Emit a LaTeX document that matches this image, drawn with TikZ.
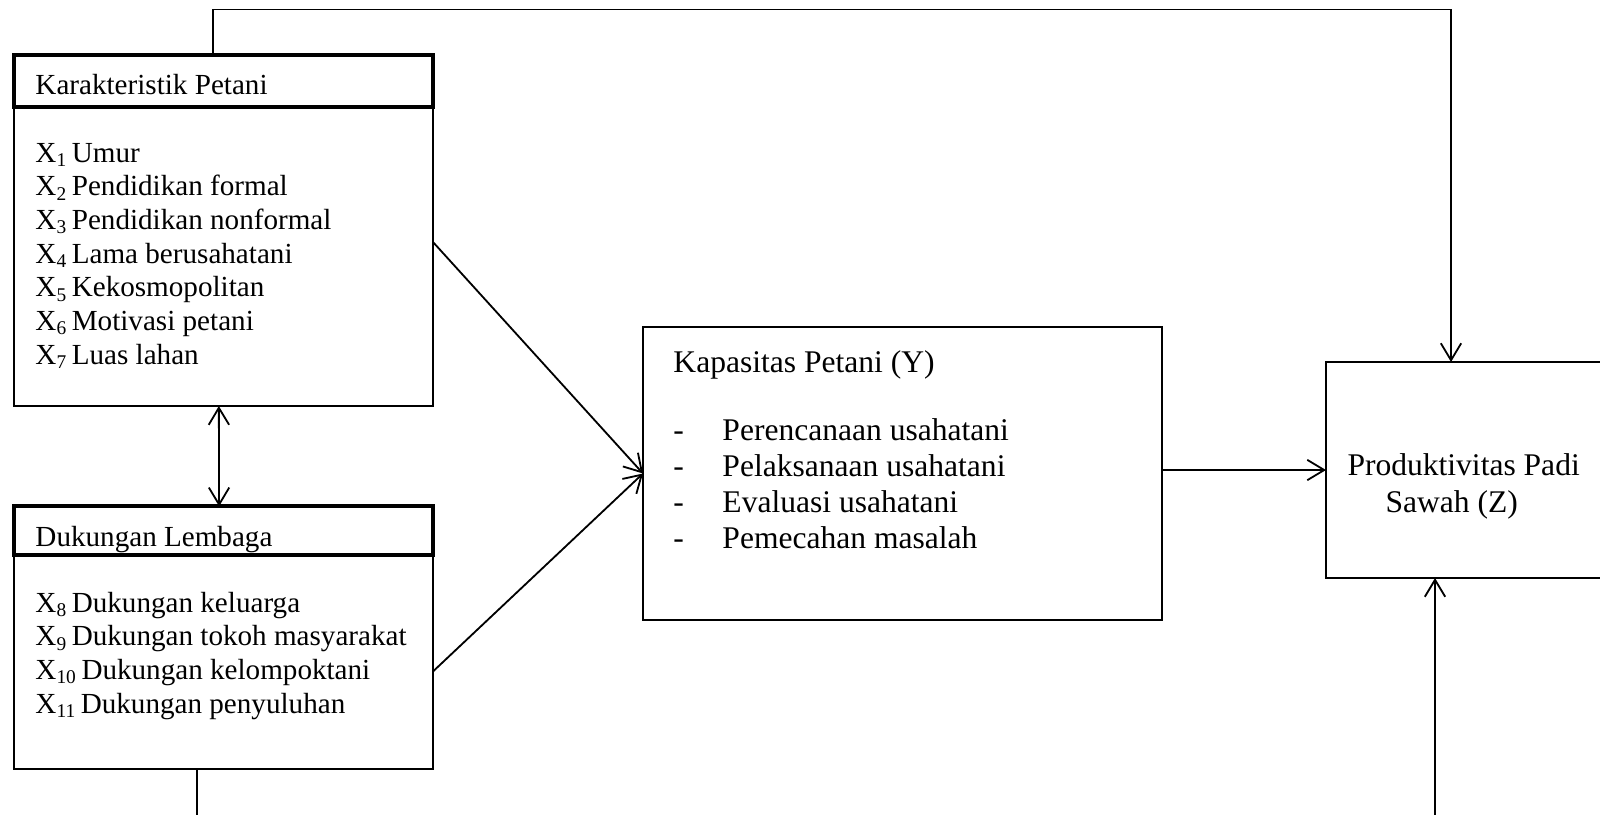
\documentclass[tikz,border=0pt]{standalone}
\usepackage{fontspec}
\setmainfont{Liberation Serif}
\usetikzlibrary{arrows.meta}

\begin{document}
\begin{tikzpicture}[x=0.412pt,y=-0.412pt,
        font=\fontsize{12}{14}\selectfont,
        box/.style={draw,line width=0.75pt,anchor=north west,inner sep=0pt,outer sep=0pt},
        head/.style={box,line width=1.7pt},
        txt/.style={anchor=base west,inner sep=0pt},
        big/.style={txt,font=\fontsize{13}{15}\selectfont},
        arr/.style={-{Straight Barb[length=7pt,width=8.4pt]},line width=0.75pt},
        dbl/.style={{Straight Barb[length=7pt,width=8.4pt]}-{Straight Barb[length=7pt,width=8.4pt]},line width=0.75pt}]

    \useasboundingbox (0,0) rectangle (1600,814);
    \clip (0,0) rectangle (1600,814);

    \node[box,minimum width=172.6pt,minimum height=123.2pt] (kp) at (14,107) {};
    \node[head,minimum width=172.8pt,minimum height=21.5pt] (kph) at (14,54.7) {};
    \node[box,minimum width=172.6pt,minimum height=88.2pt] (dl) at (14,555) {};
    \node[head,minimum width=172.8pt,minimum height=20.1pt] (dlh) at (14,506.3) {};
    \node[box,minimum width=213.8pt,minimum height=120.7pt] (kap) at (643,327) {};
    \node[box,minimum width=133.5pt,minimum height=89pt] (prod) at (1326,362) {};

    \node[txt] (kpt) at (35,94) {Karakteristik Petani};
    \foreach \t [count=\i] in {Umur,Pendidikan formal,Pendidikan nonformal,Lama berusahatani,Kekosmopolitan,Motivasi petani,Luas lahan}
        \node[txt] (x\i) at (35,128.3+33.7*\i) {X\textsubscript{\i}\hspace{0.15em}\t};

    \node[txt] (dlt) at (35,546) {Dukungan Lembaga};
    \foreach \t [count=\i from 8] in {Dukungan keluarga,Dukungan tokoh masyarakat,Dukungan kelompoktani,Dukungan penyuluhan}
        \node[txt] (x\i) at (35,612+33.7*\i-269.6) {X\textsubscript{\i}\hspace{0.15em}\t};

    \node[big] (kapt) at (673,372) {Kapasitas Petani (Y)};
    \foreach \t [count=\i] in {Perencanaan usahatani,Pelaksanaan usahatani,Evaluasi usahatani,Pemecahan masalah}{
        \node[big] (d\i) at (673,404+36*\i) {-};
        \node[big] (k\i) at (722,404+36*\i) {\t};
    }

    \node[big] (p1) at (1347,475) {Produktivitas Padi};
    \node[big] (p2) at (1385,512) {Sawah (Z)};

    \coordinate (tl) at (213,9.5);
    \coordinate (tr) at (1451,9.5);
    \coordinate (bl) at (197,840);
    \coordinate (br) at (1435,840);

    \draw[arr] (tl |- kph.north) -- (tl) -- (tr) -- (tr |- prod.north);
    \draw[arr] (bl |- dl.south) -- (bl) -- (br) -- (br |- prod.south);
    \draw[dbl] ([xshift=-1.9pt]kp.south) -- ([xshift=-1.9pt]dlh.north);
    \draw[arr] ([yshift=6pt]kp.east) -- (kap.west);
    \draw[arr] ([yshift=-3.9pt]dl.east) -- (kap.west);
    \draw[arr] (kap.east |- prod.west) -- (prod.west);
\end{tikzpicture}
\end{document}
